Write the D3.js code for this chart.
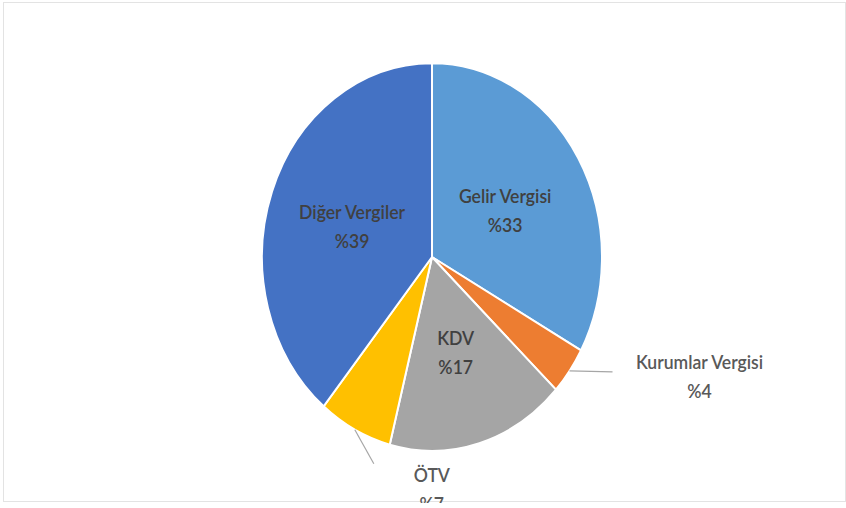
<!DOCTYPE html>
<html>
<head>
<meta charset="utf-8">
<title>Vergi Gelirleri</title>
<script src="https://d3js.org/d3.v7.min.js"></script>
<style>
  body { margin: 0; background: #fff; }
  svg { display: block; }
  text { font-family: Lato, "Open Sans", sans-serif; font-weight: 600; }
</style>
</head>
<body>
<svg id="chart" width="846" height="508"></svg>
<script>
// data
const categories = ["Gelir Vergisi", "Kurumlar Vergisi", "KDV", "ÖTV", "Diğer Vergiler"];
const shares = [33, 4, 17, 7, 39];
const colors = ["#5B9BD5", "#ED7D31", "#A5A5A5", "#FFC000", "#4472C4"];
const outside = ["Kurumlar Vergisi", "ÖTV"];

const svg = d3.select("#chart");
const cx = 432, cy = 257, r = 170, sy = 1.14;   // picture is stretched vertically

// the source picture is cropped just under the ÖTV label
svg.append("defs").append("clipPath").attr("id", "clip")
  .append("rect").attr("x", 0).attr("y", 0).attr("width", 846).attr("height", 503);

// faint frame
svg.append("rect")
  .attr("x", 3.5).attr("y", 2.5).attr("width", 842).attr("height", 499)
  .attr("fill", "none").attr("stroke", "#e3e3e3");

const rows = categories.map((c, i) => ({name: c, value: shares[i], color: colors[i]}));
const pie = d3.pie().sort(null).value(d => d.value);
const arcs = pie(rows);
const arc = d3.arc().innerRadius(0).outerRadius(r);
const labelArc = d3.arc().innerRadius(0).outerRadius(r);  // centroid at r/2
const edgeArc = d3.arc().innerRadius(r).outerRadius(r);

const root = svg.append("g").attr("clip-path", "url(#clip)");

root.append("g")
  .attr("transform", `translate(${cx},${cy}) scale(1,${sy})`)
  .selectAll("path")
  .data(arcs)
  .enter().append("path")
  .attr("d", arc)
  .attr("fill", d => d.data.color)
  .attr("stroke", "#fff")
  .attr("stroke-width", 2)
  .attr("vector-effect", "non-scaling-stroke");

const toScreen = p => [cx + p[0], cy + p[1] * sy];

// where the outside labels sit, relative to the leader start
const outsideLabel = {
  "Kurumlar Vergisi": {line: [[43, 1]], dx: 130, dy: 3},
  "ÖTV": {line: [[19, 34]], dx: 77, dy: 57}
};

const label = (g, x, y, d, fill) => {
  const t = g.append("g").attr("transform", `translate(${x},${y}) scale(0.88,1)`);
  t.append("text").attr("text-anchor", "middle").attr("y", -5)
    .attr("font-size", 20).attr("fill", fill).text(d.data.name);
  t.append("text").attr("text-anchor", "middle").attr("y", 24)
    .attr("font-size", 20).attr("fill", fill).text("%" + d.data.value);
};

arcs.forEach(d => {
  if (outside.includes(d.data.name)) {
    const o = outsideLabel[d.data.name];
    const [x0, y0] = toScreen(edgeArc.centroid(d));
    const pts = [[x0, y0]].concat(o.line.map(p => [x0 + p[0], y0 + p[1]]));
    root.append("path")
      .attr("d", d3.line()(pts))
      .attr("fill", "none").attr("stroke", "#a6a6a6").attr("stroke-width", 1.2);
    label(root, x0 + o.dx, y0 + o.dy, d, "#595959");
  } else {
    const [x, y] = toScreen(labelArc.centroid(d));
    label(root, x, y, d, "#404040");
  }
});
</script>
</body>
</html>
